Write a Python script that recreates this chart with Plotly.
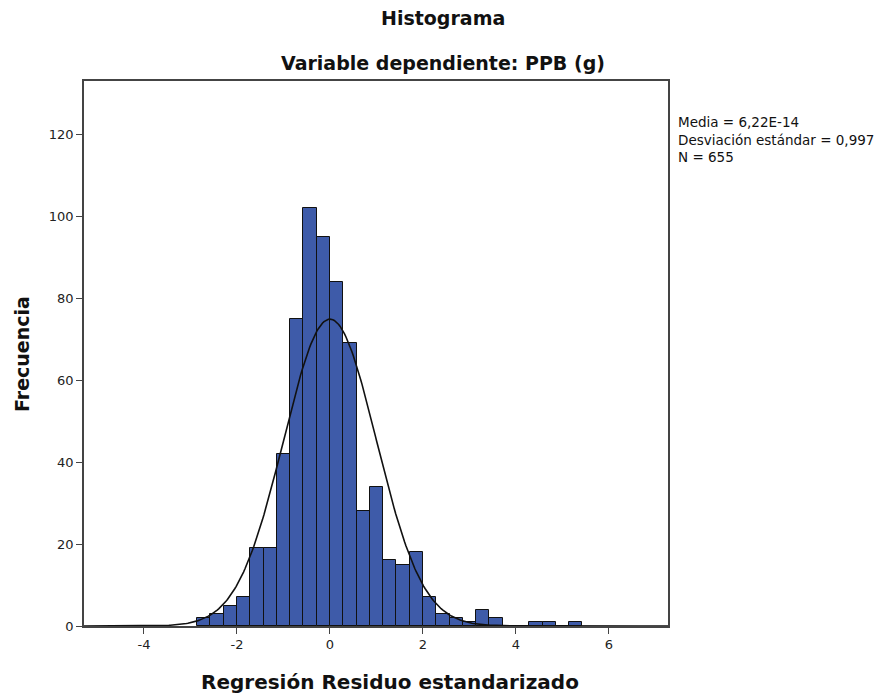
import numpy as np
import plotly.graph_objects as go

# ---- data ----
bin_width = 2 / 7
first_bin_index = -10          # first bin starts at -10 * bin_width
counts = [2, 3, 5, 7, 19, 19, 42, 75, 102, 95,
          84, 69, 28, 34, 16, 15, 18, 7, 3, 2,
          1, 4, 2, 0, 0, 1, 1, 0, 1]
media = 6.22e-14
desviacion = 0.997
n_total = 655

x_ticks = [-4, -2, 0, 2, 4, 6]
y_ticks = [0, 20, 40, 60, 80, 100, 120]

title_1 = "Histograma"
title_2 = "Variable dependiente: PPB (g)"
x_title = "Regresión Residuo estandarizado"
y_title = "Frecuencia"
stats_text = "Media = 6,22E-14<br>Desviación estándar = 0,997<br>N = 655"

x_range = [-5.29, 7.27]
y_range = [0, 133]

# ---- derived ----
centers = [(first_bin_index + i + 0.5) * bin_width for i in range(len(counts))]
xc = np.linspace(x_range[0], x_range[1], 400)
peak = n_total * bin_width / (desviacion * np.sqrt(2 * np.pi))
yc = peak * np.exp(-0.5 * ((xc - media) / desviacion) ** 2)

FONT = "DejaVu Sans, Liberation Sans, Arial, sans-serif"
L, R, T, B = 84, 668, 81, 626
PW, PH = R - L, B - T


def px(xp):
    return (xp - L) / PW


def py(yp):
    return (B - yp) / PH


fig = go.Figure()
fig.add_trace(go.Bar(
    x=centers, y=counts, width=bin_width,
    marker=dict(color="#3E5BA9", line=dict(color="#111111", width=1)),
    showlegend=False, hoverinfo="x+y",
))
fig.add_trace(go.Scatter(
    x=xc, y=yc, mode="lines",
    line=dict(color="#111111", width=1.6),
    showlegend=False, hoverinfo="skip",
))

axis_common = dict(
    showgrid=False, zeroline=False, automargin=False,
    showline=True, mirror=True, linecolor="#444444", linewidth=1.5,
    ticks="outside", ticklen=6, tickwidth=1.2, tickcolor="#444444",
    tickfont=dict(size=13, color="#222222"),
)

fig.update_layout(
    width=882, height=694,
    margin=dict(l=L, r=882 - R, t=T, b=694 - B, autoexpand=False),
    paper_bgcolor="white", plot_bgcolor="white",
    font=dict(family=FONT, color="#222222", size=13),
    bargap=0,
    xaxis=dict(range=x_range, tickvals=x_ticks, ticktext=[str(v) for v in x_ticks], **axis_common),
    yaxis=dict(range=y_range, tickvals=y_ticks, ticktext=[str(v) for v in y_ticks], **axis_common),
    annotations=[
        dict(text="<b>" + title_1 + "</b>", xref="paper", yref="paper",
             x=px(443), y=py(18), xanchor="center", yanchor="middle",
             showarrow=False, font=dict(size=19, color="#111111")),
        dict(text="<b>" + title_2 + "</b>", xref="paper", yref="paper",
             x=px(443), y=py(63), xanchor="center", yanchor="middle",
             showarrow=False, font=dict(size=19, color="#111111")),
        dict(text="<b>" + x_title + "</b>", xref="paper", yref="paper",
             x=px(390), y=py(682), xanchor="center", yanchor="middle",
             showarrow=False, font=dict(size=20, color="#111111")),
        dict(text="<b>" + y_title + "</b>", xref="paper", yref="paper",
             x=px(22), y=py(354), xanchor="center", yanchor="middle", textangle=-90,
             showarrow=False, font=dict(size=19, color="#111111")),
        dict(text=stats_text, xref="paper", yref="paper",
             x=px(676), y=py(112), xanchor="left", yanchor="top",
             align="left", showarrow=False, font=dict(size=13.5, color="#111111")),
    ],
)

fig.write_html("out.html")
